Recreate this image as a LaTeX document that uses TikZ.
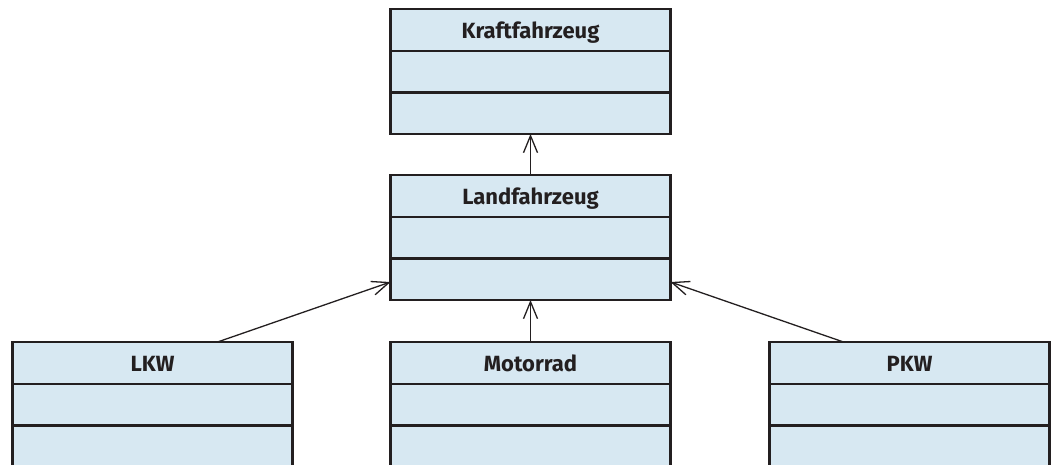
\documentclass[tikz,border=0pt]{standalone}
\usepackage{fontspec}
\setmainfont{Fira Sans}
\usetikzlibrary{calc,arrows.meta}
\definecolor{boxfill}{HTML}{D7E8F2}
\definecolor{ink}{HTML}{231F20}
\tikzset{
  cls/.style={draw=ink, fill=boxfill, line width=2.6pt, minimum width=280pt, minimum height=125pt, inner sep=0pt, outer sep=0pt},
  ttl/.style={anchor=base, font=\fontsize{22}{26}\selectfont\bfseries, text=ink, inner sep=0pt},
  div/.style={draw=ink, line width=2.4pt},
  gen/.style={draw=ink, line width=1.3pt, -{Straight Barb[length=17pt,width=14pt,line width=1.3pt]}}
}
\begin{document}
\begin{tikzpicture}[x=1pt,y=-1pt]
\useasboundingbox (0,0) rectangle (1054,464);
\clip (0,0) rectangle (1054,464);
\node[cls] (k) at (530.5,71.5) {};
\node[cls] (l) at (530.5,237.5) {};
\node[cls] (a) at (152.5,404.5) {};
\node[cls] (m) at (530.5,404.5) {};
\node[cls] (p) at (909.5,404.5) {};
\node[ttl] (kt) at ($(k.north)+(0,29.5)$) {Kraftfahrzeug};
\node[ttl] (lt) at ($(l.north)+(0,29.5)$) {Landfahrzeug};
\node[ttl] (at) at ($(a.north)+(0,29.5)$) {LKW};
\node[ttl] (mt) at ($(m.north)+(0,29.5)$) {Motorrad};
\node[ttl] (pt) at ($(p.north)+(0,29.5)$) {PKW};
\foreach \n in {k,l,a,m,p}{
  \draw[div] ($(\n.north west)+(0,41.7)$) -- ($(\n.north east)+(0,41.7)$);
  \draw[div] ($(\n.north west)+(0,83.3)$) -- ($(\n.north east)+(0,83.3)$);
}
\draw[gen] (l.north) -- (k.south);
\draw[gen] (m.north) -- (l.south);
\draw[gen] ($(a.north)+(65,0)$) -- ($(l.south west)+(0,-18)$);
\draw[gen] ($(p.north)+(-66,0)$) -- ($(l.south east)+(0,-18)$);
\end{tikzpicture}
\end{document}
